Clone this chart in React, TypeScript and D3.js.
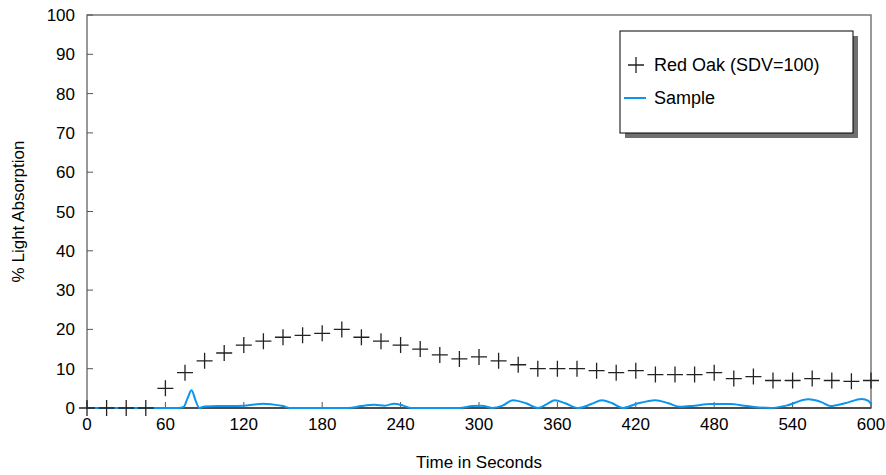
import * as d3 from 'd3';

const oakTimes = d3.range(0, 601, 15);
const oakValues = [0, 0, 0, 0, 5, 9, 12, 14, 16, 17, 18, 18.5, 19, 20, 18, 17, 16, 15, 13.5, 12.5, 13, 12, 11, 10, 10, 10, 9.5, 9, 9.5, 8.5, 8.5, 8.5, 9, 7.5, 8, 7, 7, 7.5, 7, 6.8, 7];

const sampleTimes = [0, 70, 74, 77, 80, 83, 86, 90, 100, 110, 120, 128, 135, 142, 150, 155, 200, 210, 220, 228, 235, 242, 248, 285, 295, 302, 310, 318, 326, 336, 345, 352, 358, 366, 376, 386, 394, 402, 410, 420, 435, 445, 454, 465, 477, 485, 492, 505, 523, 535, 552, 562, 569, 580, 593, 598, 600];
const sampleValues = [0, 0, 0.3, 2.5, 4.5, 2, 0, 0.4, 0.5, 0.5, 0.6, 0.9, 1.1, 0.9, 0.5, 0, 0, 0.5, 0.8, 0.6, 1.1, 0.6, 0, 0, 0.5, 0.6, 0, 0.6, 2, 1.2, 0, 1, 2, 1.2, 0, 1, 2, 1.2, 0, 1, 2, 1.2, 0.3, 0.6, 1, 1, 1, 0.5, 0, 0.6, 2.2, 1.5, 0.5, 1.2, 2.3, 1.8, 1];

const xTicks = d3.range(0, 601, 60);
const yTicks = d3.range(0, 101, 10);

const W = 886, H = 475;
const M = { left: 87, right: 15, top: 15, bottom: 67 };

export default function App() {
  const x = d3.scaleLinear().domain([0, 600]).range([M.left, W - M.right]);
  const y = d3.scaleLinear().domain([0, 100]).range([H - M.bottom, M.top]);
  const line = d3.line<number>().x((_, i) => x(sampleTimes[i])).y((v) => y(v)).curve(d3.curveMonotoneX);
  const font = 'Liberation Sans, Arial, sans-serif';
  return (
    <svg width={W} height={H} style={{ position: 'absolute', left: 0, top: 0, fontFamily: font }}>
      <rect x={0} y={0} width={W} height={H} fill="#fff" />
      <rect x={x(0)} y={y(100)} width={x(600) - x(0)} height={y(0) - y(100)} fill="none" stroke="#777" strokeWidth={1.5} />
      <line x1={x(0)} x2={x(600)} y1={y(0)} y2={y(0)} stroke="#000" />
      {xTicks.map((t) => (
        <g key={t}>
          <line x1={x(t)} x2={x(t)} y1={y(0)} y2={y(0) - 6} stroke="#555" />
          <text x={x(t)} y={y(0) + 22} textAnchor="middle" fontSize={17}>{t}</text>
        </g>
      ))}
      {yTicks.map((t) => (
        <g key={t}>
          <line x1={x(0)} x2={x(0) + 6} y1={y(t)} y2={y(t)} stroke="#555" />
          <text x={x(0) - 12} y={y(t) + 6} textAnchor="end" fontSize={17}>{t}</text>
        </g>
      ))}
      <text x={(x(0) + x(600)) / 2} y={H - 7} textAnchor="middle" fontSize={17}>Time in Seconds</text>
      <text transform={`translate(24,${(y(0) + y(100)) / 2}) rotate(-90)`} textAnchor="middle" fontSize={17}>% Light Absorption</text>
      <path d={line(sampleValues) ?? ''} fill="none" stroke="#0a96f0" strokeWidth={2} />
      {oakValues.map((v, i) => (
        <path key={i} d={`M${x(oakTimes[i]) - 8},${y(v)}h16M${x(oakTimes[i])},${y(v) - 8}v16`} stroke="#222" strokeWidth={1.3} />
      ))}
      <rect x={625} y={36} width={233} height={102} fill="#707070" />
      <rect x={620} y={31} width={233} height={102} fill="#fff" stroke="#000" />
      <path d="M628,65h16M636,57v16" stroke="#222" strokeWidth={1.3} />
      <text x={654} y={71} fontSize={18}>Red Oak (SDV=100)</text>
      <line x1={624} x2={646} y1={98} y2={98} stroke="#0a96f0" strokeWidth={2} />
      <text x={654} y={104} fontSize={18}>Sample</text>
    </svg>
  );
}
